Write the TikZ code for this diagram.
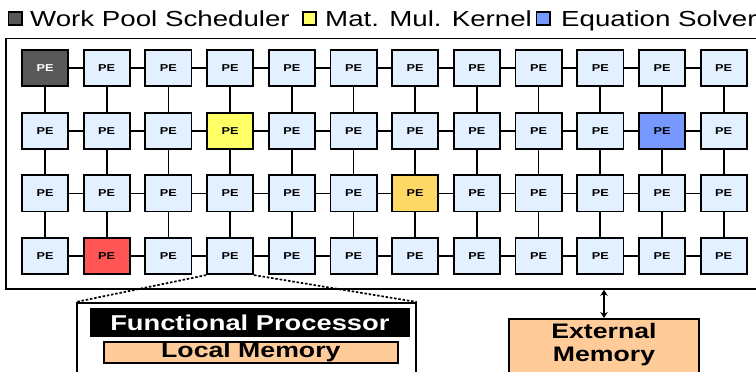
\documentclass[tikz,border=0pt]{standalone}
\usepackage{fontspec}
\setmainfont{Liberation Sans}[FakeStretch=1.27]
\usetikzlibrary{positioning,arrows.meta}

\definecolor{pefill}{HTML}{E3F0FF}
\definecolor{wpsgray}{HTML}{595959}
\definecolor{mmkyellow}{HTML}{FFFF66}
\definecolor{mmkgold}{HTML}{FFD966}
\definecolor{hotred}{HTML}{FF5555}
\definecolor{solverblue}{HTML}{7799FF}
\definecolor{memorange}{HTML}{FFCC99}

\begin{document}
\begin{tikzpicture}[
  x=1pt, y=-1pt,
  pe/.style={draw, line width=1.8pt, fill=pefill, minimum width=46.2pt, minimum height=36.2pt, inner sep=0pt, font=\fontsize{10}{11}\selectfont\bfseries},
  link/.style={line width=1.7pt},
  legbox/.style={draw, line width=1.8pt, minimum size=13.2pt, inner sep=0pt},
  legtext/.style={anchor=base west, inner sep=0pt, font=\fontsize{21.8}{24}\selectfont},
  membox/.style={draw, line width=1.7pt, fill=memorange, inner sep=0pt, align=center, font=\fontsize{21}{23}\selectfont\bfseries},
  cell 0-0/.style={fill=wpsgray, text=white},
  cell 1-3/.style={fill=mmkyellow},
  cell 1-10/.style={fill=solverblue},
  cell 2-6/.style={fill=mmkgold},
  cell 3-1/.style={fill=hotred}
]
\useasboundingbox (0,0) rectangle (756,372);

% Legend
\node[legbox, fill=wpsgray] (l-wps) at (15,18.5) {};
\node[legtext] (t-wps) at (30,26.5) {Work Pool Scheduler};
\node[legbox, fill=mmkyellow] (l-mmk) at (309.5,18.5) {};
\node[legtext] (t-mmk) at (325,26.5) {Mat. Mul. Kernel};
\node[legbox, fill=solverblue] (l-eqs) at (543,18.5) {};
\node[legtext] (t-eqs) at (561,26.5) {Equation Solver};

% Chip frame
\node[draw, line width=1.8pt, minimum width=770pt, minimum height=250.5pt, anchor=north west, inner sep=0pt] (chip) at (5,37.5) {};

% PE array
\foreach \r in {0,...,3}
  \foreach \c in {0,...,11}
    \node[pe, cell \r-\c/.try] (pe-\r-\c) at ({45+61.7*\c},{68+62.7*\r}) {PE};

% Mesh links
\foreach \r in {0,...,3}
  \foreach \c [count=\n] in {0,...,10}
    \draw[link] (pe-\r-\c) -- (pe-\r-\n);
\foreach \r [count=\n] in {0,...,2}
  \foreach \c in {0,...,11}
    \draw[link] (pe-\r-\c) -- (pe-\n-\c);

% Zoom into one PE
\node[draw, line width=1.7pt, fill=white, minimum width=339pt, minimum height=80pt, anchor=north west, inner sep=0pt] (zoom) at (76,302) {};
\draw[line width=1.7pt, dash pattern=on 2.5pt off 1.8pt] (pe-3-3.south west) -- (zoom.north west);
\draw[line width=1.7pt, dash pattern=on 2.5pt off 1.8pt] (pe-3-3.south east) -- (zoom.north east);
\node[draw, line width=1.7pt, fill=black, text=white, minimum width=318pt, minimum height=27pt, inner sep=0pt, anchor=north west, font=\fontsize{21.5}{23}\selectfont\bfseries] (fproc) at (90,308) {Functional Processor};
\node[membox, minimum width=294pt, minimum height=21pt, anchor=north west] (lmem) at (103,341) {Local Memory};

% External memory
\node[membox, text width=190pt, text depth=40pt, inner ysep=4.5pt, anchor=north] (extmem) at (604,318) {External\\Memory};
\draw[line width=1.7pt, {Stealth[length=6pt,width=7.5pt]}-{Stealth[length=6pt,width=7.5pt]}] (chip.south -| extmem.north) -- (extmem.north);

\end{tikzpicture}
\end{document}
